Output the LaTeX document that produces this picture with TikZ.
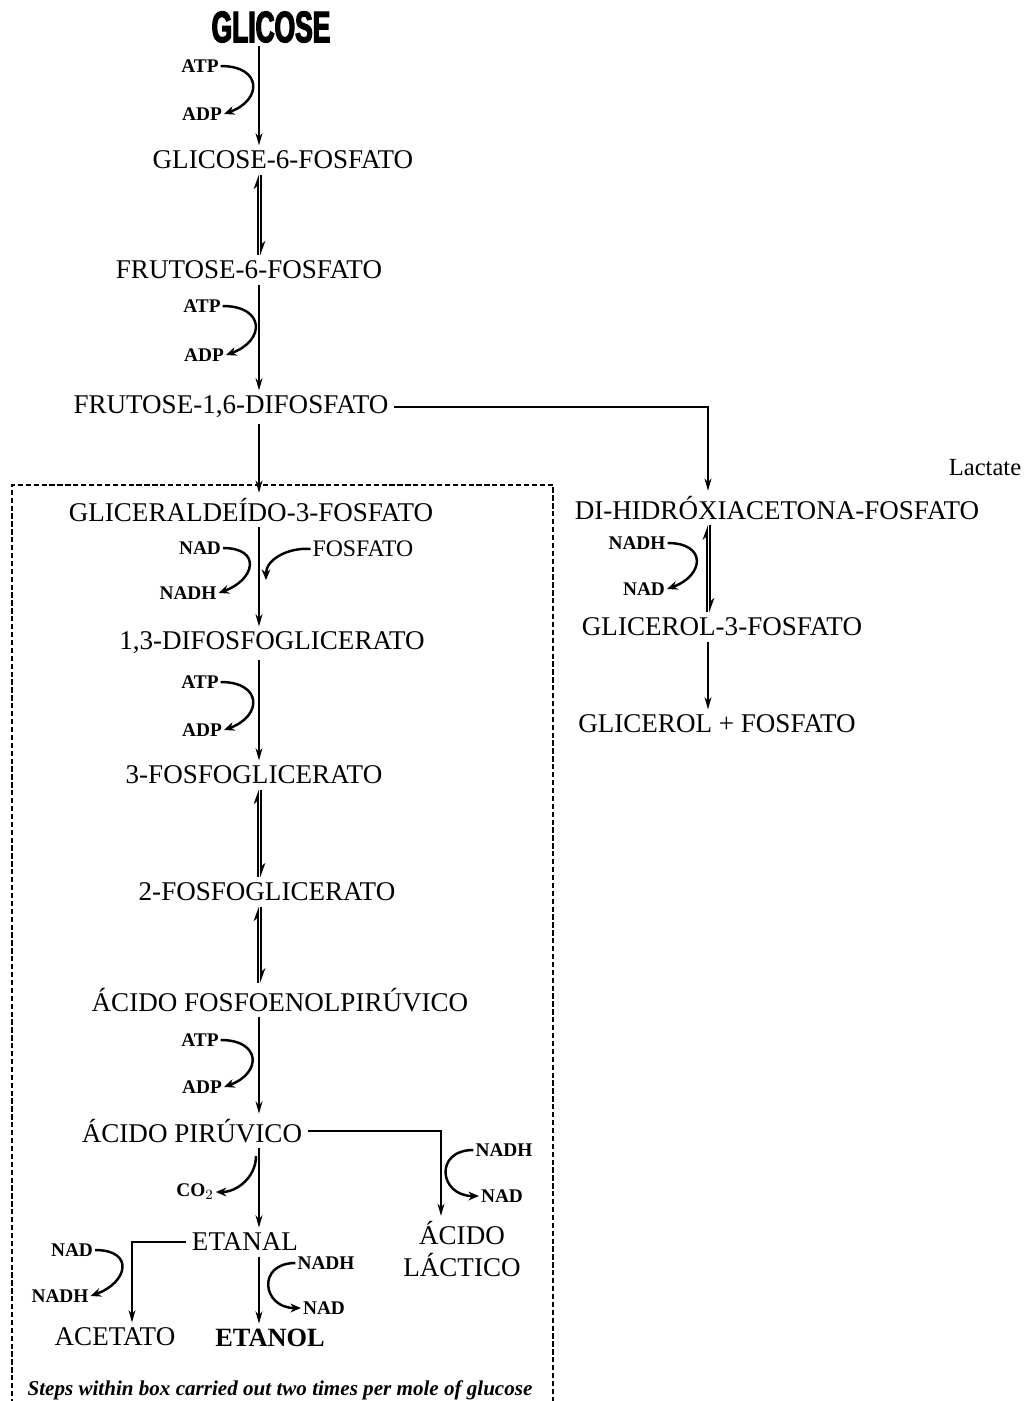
\documentclass[tikz,border=0pt]{standalone}
\usepackage{fontspec}
\setmainfont{Liberation Serif}
\newfontfamily\glicfont[FakeStretch=0.6,FakeBold=3]{Liberation Sans}
\usetikzlibrary{positioning,arrows.meta}

\begin{document}
\begin{tikzpicture}[x=0.02cm, y=0.02cm,
    met/.style={font=\fontsize{15.4}{18}\selectfont, inner sep=3pt},
    glic/.style={font=\glicfont\fontsize{25}{28}\selectfont\bfseries, inner sep=2pt},
    cof/.style={font=\fontsize{11}{12}\selectfont\bfseries, inner sep=1pt},
    caption/.style={font=\fontsize{12}{14}\selectfont\bfseries\itshape},
    arrow/.style={-{Stealth[length=7pt,width=4pt]}, line width=0.6pt},
    cofarrow/.style={-{Stealth[length=6pt,width=5pt]}, line width=1.4pt},
    revarrow/.style={-{Stealth[length=7pt,width=5pt,left]}, line width=0.9pt},
    box/.style={draw, dash pattern=on 3pt off 1.5pt, line width=0.6pt}
]
\useasboundingbox (0,0) rectangle (1035,-1401);

% Columns of the arrows
\coordinate (col) at (259,0);
\coordinate (colL) at (258,0);
\coordinate (colR) at (261,0);
\coordinate (rcol) at (708,0);
\coordinate (rcolL) at (707,0);
\coordinate (rcolR) at (710,0);
\coordinate (lcol) at (441,0);
\coordinate (acol) at (132,0);

% Box of the steps done twice
\draw[box] (12,-1420) -- (12,-485) -- (553,-485) -- (553,-1420);

% Metabolites
\node[glic] (glicose) at (271,-27) {GLICOSE};
\node[met] (g6p) at (283,-160) {GLICOSE-6-FOSFATO};
\node[met] (f6p) at (249,-270) {FRUTOSE-6-FOSFATO};
\node[met] (f16bp) at (231,-407) {FRUTOSE-1,6-DIFOSFATO};
\node[met] (gap) at (251,-510) {GLICERALDEÍDO-3-FOSFATO};
\node[met] (bpg) at (272,-643) {1,3-DIFOSFOGLICERATO};
\node[met] (pg3) at (254,-775) {3-FOSFOGLICERATO};
\node[met] (pg2) at (267,-892) {2-FOSFOGLICERATO};
\node[met] (pep) at (280,-1000) {ÁCIDO FOSFOENOLPIRÚVICO};
\node[met] (pir) at (192,-1131) {ÁCIDO PIRÚVICO};
\node[met] (etanal) at (245,-1242) {ETANAL};
\node[met] (acet) at (115,-1337) {ACETATO};
\node[met, font=\fontsize{15}{18}\selectfont\bfseries] (etanol) at (270,-1338) {ETANOL};
\node[met, align=center] (lac) at (462,-1249) {ÁCIDO\\LÁCTICO};

% Glycerol branch
\node[met] (dhap) at (777,-508) {DI-HIDRÓXIACETONA-FOSFATO};
\node[met] (g3p) at (722,-627) {GLICEROL-3-FOSFATO};
\node[met] (glicerol) at (717,-724) {GLICEROL + FOSFATO};
\node[font=\fontsize{14}{16}\selectfont] (lactate) at (985,-468) {Lactate};

\node[caption] (nota) at (280,-1390) {Steps within box carried out two times per mole of glucose};

% Cofactors
\node[cof] (atp1) at (200,-66) {ATP};
\node[cof] (adp1) at (202,-114) {ADP};
\node[cof] (atp2) at (202,-306) {ATP};
\node[cof] (adp2) at (204,-355) {ADP};
\node[cof] (nad1) at (200,-548) {NAD};
\node[cof] (nadh1) at (188,-593) {NADH};
\node[met, font=\fontsize{13.5}{15}\selectfont, inner sep=1pt] (pi) at (363,-549) {FOSFATO};
\node[cof] (atp3) at (200,-682) {ATP};
\node[cof] (adp3) at (202,-730) {ADP};
\node[cof] (atp4) at (200,-1040) {ATP};
\node[cof] (adp4) at (202,-1087) {ADP};
\node[cof] (co2) at (195,-1192) {CO$_2$};
\node[cof] (nadh2) at (504,-1150) {NADH};
\node[cof] (nad2) at (502,-1196) {NAD};
\node[cof] (nad3) at (72,-1250) {NAD};
\node[cof] (nadh3) at (60,-1296) {NADH};
\node[cof] (nadh4) at (326,-1263) {NADH};
\node[cof] (nad4) at (324,-1308) {NAD};
\node[cof] (nadh5) at (637,-543) {NADH};
\node[cof] (nad5) at (644,-589) {NAD};

\coordinate (pin) at (266,-580);
\coordinate (co2s) at (256,-1156);

% Connections
\draw[arrow] (col |- glicose.south) -- (col |- g6p.north);
\draw[revarrow] (colL |- f6p.north) -- (colL |- g6p.south);
\draw[revarrow] (colR |- g6p.south) -- (colR |- f6p.north);
\draw[arrow] (col |- f6p.south) -- (col |- f16bp.north);
\draw[arrow] (col |- f16bp.south) -- (col |- gap.north);
\draw[arrow] (col |- gap.south) -- (col |- bpg.north);
\draw[arrow] (col |- bpg.south) -- (col |- pg3.north);
\draw[revarrow] (colL |- pg2.north) -- (colL |- pg3.south);
\draw[revarrow] (colR |- pg3.south) -- (colR |- pg2.north);
\draw[revarrow] (colL |- pep.north) -- (colL |- pg2.south);
\draw[revarrow] (colR |- pg2.south) -- (colR |- pep.north);
\draw[arrow] (col |- pep.south) -- (col |- pir.north);
\draw[arrow] (col |- pir.south) -- (col |- etanal.north);
\draw[arrow] (col |- etanal.south) -- (col |- etanol.north);
\draw[arrow] (etanal.west) -| (acol |- acet.north);
\draw[arrow] (pir.east) -| (lcol |- lac.north);
\draw[arrow] (f16bp.east) -| (rcol |- dhap.north);
\draw[revarrow] (rcolL |- g3p.north) -- (rcolL |- dhap.south);
\draw[revarrow] (rcolR |- dhap.south) -- (rcolR |- g3p.north);
\draw[arrow] (rcol |- g3p.south) -- (rcol |- glicerol.north);

% Cofactor curves
\draw[cofarrow] (atp1.east) to[out=0, in=20, looseness=2.2] (adp1.east);
\draw[cofarrow] (atp2.east) to[out=0, in=20, looseness=2.2] (adp2.east);
\draw[cofarrow] (nad1.east) to[out=0, in=20, looseness=2.2] (nadh1.east);
\draw[cofarrow] (pi.west) to[out=175, in=90] (pin);
\draw[cofarrow] (atp3.east) to[out=0, in=20, looseness=2.2] (adp3.east);
\draw[cofarrow] (atp4.east) to[out=0, in=20, looseness=2.2] (adp4.east);
\draw[cofarrow] (co2s) to[out=-90, in=0] (co2.east);
\draw[cofarrow] (nadh2.west) to[out=180, in=180, looseness=2.2] (nad2.west);
\draw[cofarrow] (nad3.east) to[out=0, in=20, looseness=2.2] (nadh3.east);
\draw[cofarrow] (nadh4.west) to[out=180, in=180, looseness=2.2] (nad4.west);
\draw[cofarrow] (nadh5.east) to[out=0, in=20, looseness=2.2] (nad5.east);

\end{tikzpicture}
\end{document}
